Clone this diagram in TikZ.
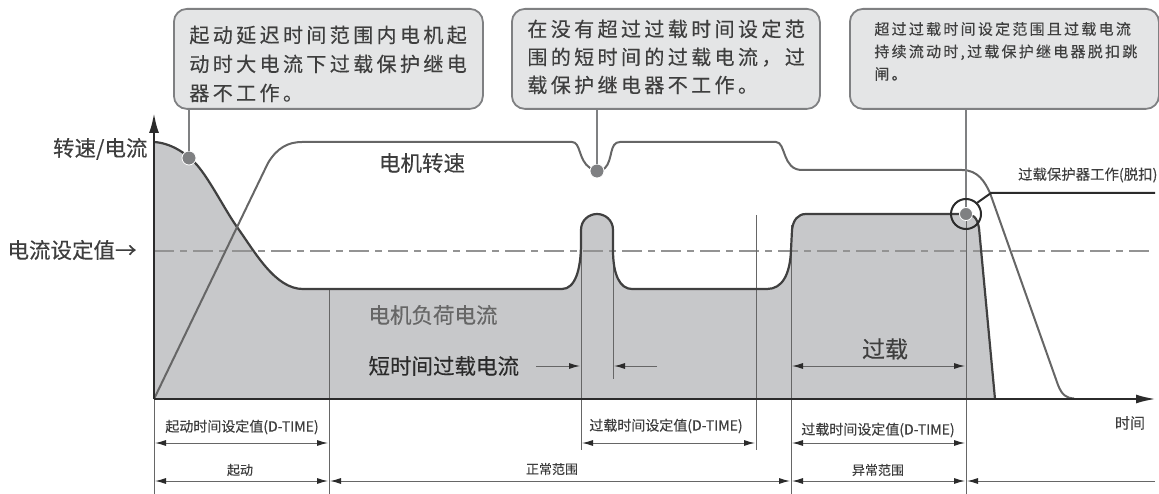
\documentclass[tikz,border=0pt]{standalone}
\usepackage{fontspec}
\usetikzlibrary{arrows.meta}
\setmainfont[FakeBold=0.25]{Noto Sans CJK SC}
\newfontfamily\cjkwide[LetterSpace=17,FakeBold=0.25]{Noto Sans CJK SC}
\newfontfamily\cjkmid[LetterSpace=15,FakeBold=0.25]{Noto Sans CJK SC}
\definecolor{areagray}{HTML}{C7C8CA}
\definecolor{boxgray}{HTML}{E4E5E6}
\definecolor{edgegray}{HTML}{7F8082}
\definecolor{inkdark}{HTML}{2B2B2B}
\definecolor{inktext}{HTML}{3E3E3E}
\definecolor{inksoft}{HTML}{666666}
\tikzset{
  callout/.style={draw=edgegray,fill=boxgray,line width=1.8pt,rounded corners=13pt,inner sep=0pt,anchor=north west,font=\cjkwide\fontsize{20}{29}\selectfont,text=inktext,align=left},
  stem/.style={draw=edgegray,line width=1.8pt},
  dotmark/.style={circle,fill=edgegray,draw=white,line width=0.8pt,minimum size=14pt,inner sep=0pt},
  guide/.style={draw=inksoft,line width=0.9pt},
  dim/.style={draw=inksoft,line width=1pt},
  dimboth/.style={dim,{Latex[length=11pt,width=6pt,color=inkdark]}-{Latex[length=11pt,width=6pt,color=inkdark]}},
  dimright/.style={dim,-{Latex[length=11pt,width=6pt,color=inkdark]}},
  bigtext/.style={font=\fontsize{21.5}{24}\selectfont,text=inktext},
  smalltext/.style={font=\fontsize{14}{16}\selectfont,text=inktext},
  tinytext/.style={font=\fontsize{13}{15}\selectfont,text=inktext},
  currentline/.style={draw=inkdark!90,line width=2.2pt},
  speedline/.style={draw=inksoft,line width=2pt},
  axisline/.style={draw=inkdark,line width=2.4pt}
}
\begin{document}
\begin{tikzpicture}[x=1pt,y=-1pt]
\path[use as bounding box] (0,0) rectangle (1159,494);

% load current area
\fill[areagray] (154,142) .. controls (170,143) and (185,152) .. (197,165)
  .. controls (210,180) and (225,210) .. (237,227)
  .. controls (255,252) and (275,289) .. (303,289) -- (562,289)
  .. controls (575,289) and (581,270) .. (581,243) -- (581,230)
  .. controls (581,220) and (589,214) .. (597,214)
  .. controls (605,214) and (613,220) .. (613,230) -- (613,250)
  .. controls (613,275) and (620,289) .. (632,289) -- (767,289)
  .. controls (782,289) and (790,275) .. (791,250) -- (792,230)
  .. controls (793,220) and (798,214) .. (806,214) -- (965,214)
  .. controls (973,214) and (977,217) .. (979,228) -- (995,399) -- (154,399) -- cycle;

% set value line
\draw[draw=gray!85,line width=1.5pt,dash pattern=on 20pt off 6pt on 7pt off 6pt] (154,251) -- (1155,251);

% guides
\coordinate (g1a) at (329,289); \coordinate (g1b) at (329,494);
\coordinate (g2a) at (581,228); \coordinate (g2b) at (581,450);
\coordinate (g3a) at (613,228); \coordinate (g3b) at (613,379);
\coordinate (g4a) at (756,215); \coordinate (g4b) at (756,450);
\coordinate (g5a) at (791,225); \coordinate (g5b) at (791,494);
\coordinate (g6a) at (966,214); \coordinate (g6b) at (966,494);
\coordinate (g0a) at (154,399); \coordinate (g0b) at (154,494);
\foreach \n in {0,...,6} {\draw[guide] (g\n a) -- (g\n b);}

% curves
\draw[currentline] (154,142) .. controls (170,143) and (185,152) .. (197,165)
  .. controls (210,180) and (225,210) .. (237,227)
  .. controls (255,252) and (275,289) .. (303,289) -- (562,289)
  .. controls (575,289) and (581,270) .. (581,243) -- (581,230)
  .. controls (581,220) and (589,214) .. (597,214)
  .. controls (605,214) and (613,220) .. (613,230) -- (613,250)
  .. controls (613,275) and (620,289) .. (632,289) -- (767,289)
  .. controls (782,289) and (790,275) .. (791,250) -- (792,230)
  .. controls (793,220) and (798,214) .. (806,214) -- (965,214)
  .. controls (973,214) and (977,217) .. (979,228) -- (995,399);
\draw[speedline] (154,399) -- (268,163) .. controls (277,148) and (288,142) .. (302,142) -- (572,142)
  .. controls (581,142) and (578,160) .. (590,168)
  .. controls (594,171) and (601,172) .. (605,168)
  .. controls (613,160) and (609,142) .. (620,142) -- (776,142)
  .. controls (786,142) and (782,170) .. (802,170) -- (962,170)
  .. controls (978,170) and (985,182) .. (990,193) -- (1058,385)
  .. controls (1062,395) and (1066,398) .. (1074,398.5);

% axes
\coordinate (org) at (154,399);
\coordinate (ytip) at (154,113);
\coordinate (xtip) at (1156,399);
\draw[axisline,-{Latex[length=20pt,width=10pt]}] (org) -- (ytip);
\draw[axisline,-{Latex[length=20pt,width=9pt]}] (org) -- (xtip);

% callouts
\node[callout,minimum width=309pt,minimum height=100pt] (box1) at (173,8)
  {\hspace*{12pt}\parbox[c][100pt][c]{290pt}{\vspace*{10pt}起动延迟时间范围内电机起\\动时大电流下过载保护继电\\器不工作。}};
\node[callout,minimum width=308pt,minimum height=100pt] (box2) at (511,8)
  {\hspace*{13pt}\parbox[c][100pt][c]{290pt}{\fontsize{20}{28}\selectfont 在没有超过过载时间设定范\\围的短时间的过载电流，过\\载保护继电器不工作。\par\vspace*{4pt}}};
\node[callout,minimum width=309pt,minimum height=100pt] (box3) at (849,8)
  {\hspace*{22pt}\parbox[c][100pt][c]{282pt}{\cjkmid\fontsize{15}{22.5}\selectfont 超过过载时间设定范围且过载电流\\持续流动时,过载保护继电器脱扣跳\\闸。\par\vspace*{15pt}}};

% markers and stems
\node[dotmark] (m1) at (189,158) {};
\node[dotmark] (m2) at (597,171) {};
\node[dotmark,minimum size=13pt] (m3) at (966,214) {};
\coordinate (s1) at (m1 |- box1.south);
\coordinate (s2) at (m2 |- box2.south);
\coordinate (s3) at (m3 |- box3.south);
\draw[stem] (s1) -- (m1);
\draw[stem] (s2) -- (m2);
\draw[stem,line width=1.4pt] (s3) -- (m3);

% trip ring and leader
\node[circle,draw=inkdark,line width=2pt,minimum size=30pt,inner sep=0pt] (ring) at (966,214) {};
\coordinate (tripk) at (991,193);
\coordinate (tripe) at (1155,193);
\draw[draw=inkdark,line width=2pt] (ring.45) -- (tripk) -- (tripe);

% text labels
\node[bigtext,anchor=east] (lspeed) at (151,149) {转速/电流};
\node[bigtext,anchor=west] (lset) at (4,250) {电流设定值→};
\node[bigtext,anchor=center] (lmotor) at (422,163) {电机转速};
\node[bigtext,anchor=west,text=inksoft] (lload) at (365,315) {电机负荷电流};
\node[bigtext,anchor=west,text=inkdark] (lshort) at (365,366) {短时间过载电流};
\node[bigtext,anchor=center,font=\fontsize{23}{26}\selectfont] (lover) at (885,349) {过载};
\node[anchor=east,font=\fontsize{14.4}{16}\selectfont,text=inktext] (ltrip) at (1161,175) {过载保护器工作(脱扣)};
\node[font=\fontsize{15}{17}\selectfont,text=inktext] (ltime) at (1130,423) {时间};
\node[smalltext] (r1) at (242,427) {起动时间设定值(D-TIME)};
\node[smalltext] (r2) at (666,426) {过载时间设定值(D-TIME)};
\node[smalltext] (r3) at (878,430) {过载时间设定值(D-TIME)};
\node[tinytext] (r4) at (240,470) {起动};
\node[tinytext] (r5) at (552,469) {正常范围};
\node[tinytext] (r6) at (878,470) {异常范围};

% dimension arrows
\coordinate (a1) at (536,366); \coordinate (a2) at (580,366);
\coordinate (a3) at (657,366); \coordinate (a4) at (614,366);
\draw[dimright] (a1) -- (a2);
\draw[dimright] (a3) -- (a4);
\coordinate (o1) at (792,366); \coordinate (o2) at (965,366);
\draw[dimboth] (o1) -- (o2);
\coordinate (b1) at (155,443); \coordinate (b2) at (328,443);
\coordinate (b3) at (582,443); \coordinate (b4) at (755,443);
\coordinate (b5) at (792,443); \coordinate (b6) at (965,443);
\draw[dimboth] (b1) -- (b2);
\draw[dimboth] (b3) -- (b4);
\draw[dimboth] (b5) -- (b6);
\coordinate (c1) at (155,481); \coordinate (c2) at (328,481);
\coordinate (c3) at (330,481); \coordinate (c4) at (790,481);
\coordinate (c5) at (792,481); \coordinate (c6) at (965,481);
\coordinate (c7) at (1155,481); \coordinate (c8) at (967,481);
\draw[dimboth] (c1) -- (c2);
\draw[dimboth] (c3) -- (c4);
\draw[dimboth] (c5) -- (c6);
\draw[dimright] (c7) -- (c8);
\end{tikzpicture}
\end{document}
